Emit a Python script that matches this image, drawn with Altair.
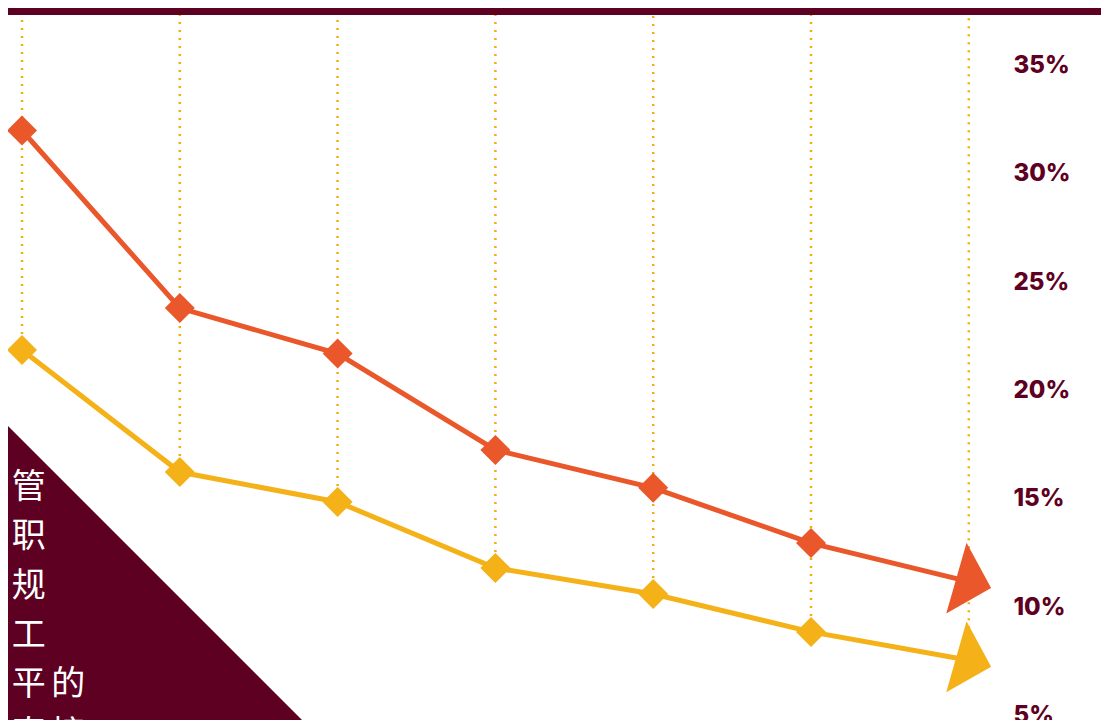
import altair as alt
import pandas as pd

# ---- data ----
steps = [0, 1, 2, 3, 4, 5, 6]
orange_vals = [32.0, 23.8, 21.7, 17.25, 15.5, 12.95, 11.17]
yellow_vals = [21.87, 16.23, 14.85, 11.8, 10.6, 8.85, 7.54]
series_names = ["orange", "yellow"]
y_ticks = [5, 10, 15, 20, 25, 30, 35]
text_lines = ["主管", "兼职", "合规", "员工", "水平的", "其直接"]

MAROON = "#5e0021"
ORANGE = "#e9572a"
YELLOW = "#f4b118"

W, H = 997, 712

rows = []
for s, v in zip(steps, orange_vals):
    rows.append({"step": s, "value": v, "series": "orange"})
for s, v in zip(steps, yellow_vals):
    rows.append({"step": s, "value": v, "series": "yellow"})
df = pd.DataFrame(rows)
last_step = steps[-1]

x_enc = alt.X("step:Q", scale=alt.Scale(domain=[-0.0887, 6.2294], nice=False, zero=False), axis=None)
y_enc = alt.Y(
    "value:Q",
    scale=alt.Scale(domain=[4.783, 37.655], nice=False, zero=False),
    axis=alt.Axis(
        orient="right", values=y_ticks, labelExpr="datum.value + '%'",
        ticks=False, domain=False, grid=False, title=None,
        labelFont="Inter", labelFontSize=24, labelFontWeight=800,
        labelColor=MAROON, labelAlign="left", labelBaseline="middle",
        labelPadding=8, labelFlush=False, labelOverlap=False,
    ),
)
color_enc = alt.Color("series:N", scale=alt.Scale(domain=series_names, range=[ORANGE, YELLOW]), legend=None)

one = alt.Data(values=[{"k": 0}])

band = alt.Chart(one).mark_rect(color=MAROON).encode(
    x=alt.value(0), x2=alt.value(W + 96), y=alt.value(0), y2=alt.value(7)
)

rules = alt.Chart(df).transform_filter("datum.series == 'yellow'").mark_rule(
    color="#f2ad10", strokeWidth=2.5, strokeDash=[2, 6]
).encode(x=x_enc, y=y_enc, y2=alt.value(7))

lines = alt.Chart(df).mark_line(strokeWidth=5).encode(x=x_enc, y=y_enc, color=color_enc, detail="series:N")

diamonds = alt.Chart(df).transform_filter(f"datum.step < {last_step}").mark_point(
    shape="diamond", size=900, filled=True, opacity=1, strokeWidth=0
).encode(x=x_enc, y=y_enc, color=color_enc)

arrows = alt.Chart(df).transform_filter(f"datum.step == {last_step}").mark_point(
    shape="M0.63,0L-0.35,-1L-0.35,1Z", size=5432, filled=True, opacity=1, strokeWidth=0, angle=16
).encode(x=x_enc, y=y_enc, color=color_enc)

corner = alt.Chart(one).mark_point(
    shape="M-0.1,-1.1L1.1,0.1L-0.1,0.1Z", size=345744, filled=True, opacity=1,
    strokeWidth=0, color=MAROON
).encode(x=alt.value(0), y=alt.value(H))

text = alt.Chart(one).mark_text(
    text=["\u2006".join(t) for t in text_lines],
    font="Noto Sans CJK SC", fontSize=34, lineHeight=49.3,
    align="left", baseline="middle", color="white",
).encode(x=alt.value(-36), y=alt.value(480))

chart = alt.layer(band, rules, lines, diamonds, arrows, corner, text).properties(
    width=W, height=H, autosize="none",
    padding={"left": 0, "top": 0, "right": 96, "bottom": 0},
    background="white",
).configure_view(stroke=None)

chart.save("out.html", embed_options={"renderer": "svg", "actions": False})
